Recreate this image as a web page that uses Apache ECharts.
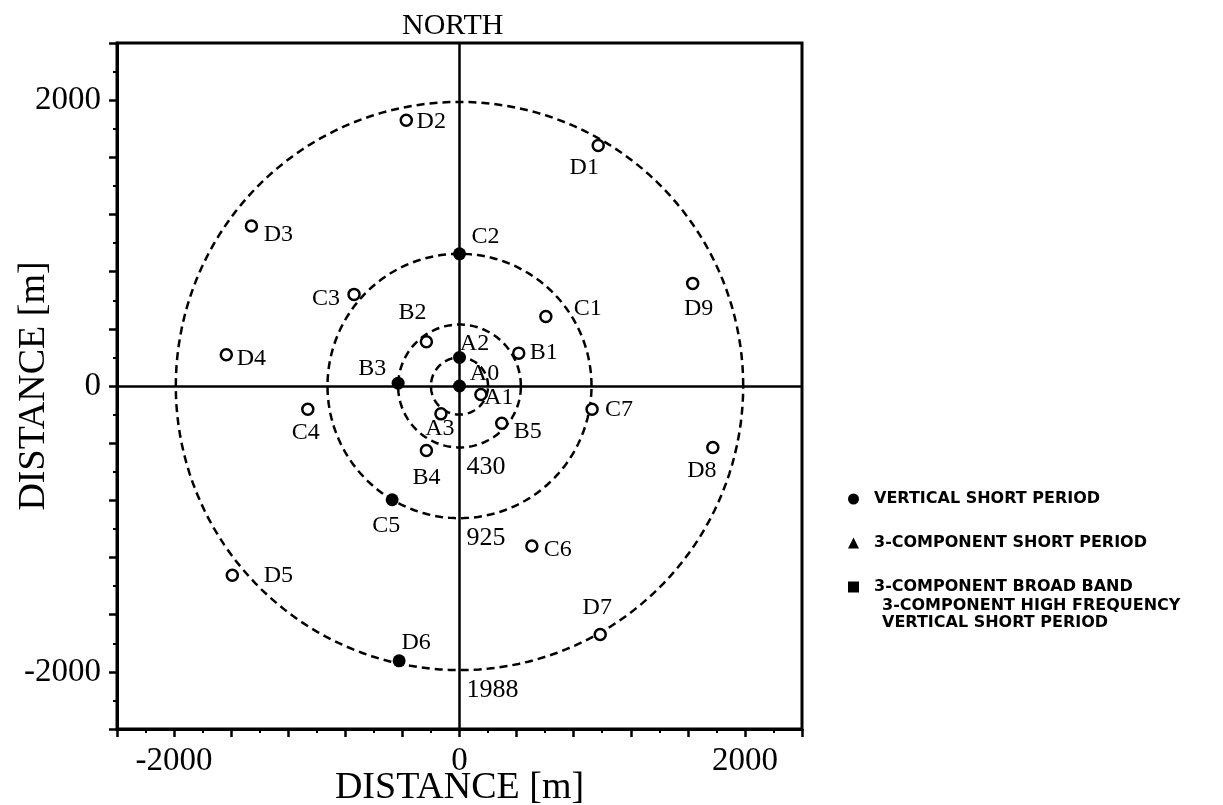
<!DOCTYPE html>
<html>
<head>
<meta charset="utf-8">
<title>Station layout</title>
<script src="https://cdn.jsdelivr.net/npm/echarts@6/dist/echarts.min.js"></script>
<style>
  html, body { margin: 0; padding: 0; background: #fff; }
  #chart { width: 1223px; height: 805px; }
</style>
</head>
<body>
<div id="chart"></div>
<script>
// ring radii (m) and the labels written under them
var ringRadii = [200, 430, 925, 1988];
var ringLabels = ['', '430', '925', '1988'];

// vertical short period stations
var vertNames = ['A1', 'A3', 'B1', 'B2', 'B4', 'B5', 'C1', 'C3', 'C4', 'C6', 'C7',
                 'D1', 'D2', 'D3', 'D4', 'D5', 'D7', 'D8', 'D9'];
var vertX = [150, -130, 415, -232, -232, 296, 605, -739, -1063, 507, 929,
             972, -373, -1458, -1634, -1592, 986, 1775, 1634];
var vertY = [-60, -195, 230, 310, -451, -261, 486, 641, -162, -1120, -162,
             1683, 1859, 1120, 218, -1324, -1739, -430, 718];

// 3-component short period stations
var shortNames = ['A2', 'B3', 'C2', 'C5', 'D6'];
var shortX = [0, -430, 0, -472, -423];
var shortY = [200, 20, 925, -796, -1923];

// broad band station
var broadNames = ['A0'];
var broadX = [0];
var broadY = [0];

var legendNames = ['VERTICAL SHORT PERIOD', '3-COMPONENT SHORT PERIOD', '3-COMPONENT BROAD BAND'];
var legendExtra = ['3-COMPONENT HIGH FREQUENCY', 'VERTICAL SHORT PERIOD'];

// where each station name sits relative to its marker (px)
var labelOffset = {
  A0: [25, -12], A1: [18, 3], A2: [15, -14], A3: [-1, 15],
  B1: [25, 0], B2: [-14, -29], B3: [-26, -14], B4: [0, 27], B5: [26, 8],
  C1: [42, -8], C2: [26, -17], C3: [-28, 4], C4: [-2, 24], C5: [-6, 26],
  C6: [26, 4], C7: [27, 1],
  D1: [-14, 22], D2: [25, 1], D3: [27, 9], D4: [25, 4], D5: [46, 0],
  D6: [17, -18], D7: [-3, -27], D8: [-11, 23], D9: [6, 25]
};

var serif = '"Liberation Serif", "Times New Roman", serif';

function stations(names, xs, ys) {
  return names.map(function (n, i) {
    return { name: n, value: [xs[i], ys[i]], label: { offset: labelOffset[n] } };
  });
}

var stationLabel = {
  show: true, position: 'inside', formatter: '{b}',
  color: '#000', fontFamily: serif, fontSize: 24
};

var chart = echarts.init(document.getElementById('chart'));

function tickLabel(v) {
  return (v === 0 || Math.abs(v) === 2000) ? String(v) : '';
}

var axisCommon = {
  type: 'value', min: -2400, max: 2400, interval: 400,
  splitLine: { show: false },
  axisLine: { onZero: false, lineStyle: { color: '#000', width: 3 } },
  axisTick: { length: 8, lineStyle: { color: '#000', width: 2.5 } },
  minorTick: { show: true, splitNumber: 2, length: 4, lineStyle: { color: '#000', width: 2 } },
  axisLabel: { formatter: tickLabel, color: '#000', fontFamily: serif, fontSize: 33, margin: 16 },
  nameLocation: 'middle',
  nameMoveOverlap: false,
  nameTextStyle: { color: '#000', fontFamily: serif, fontSize: 38 }
};

chart.setOption({
  backgroundColor: '#fff',
  animation: false,
  title: {
    text: 'NORTH', left: 397, top: 6,
    textStyle: { color: '#000', fontFamily: serif, fontSize: 30, fontWeight: 'normal' }
  },
  grid: {
    left: 117, top: 43, width: 685, height: 686,
    containLabel: false, outerBoundsMode: 'none',
    show: true, borderColor: '#000', borderWidth: 3, backgroundColor: 'transparent'
  },
  xAxis: Object.assign({}, axisCommon, { name: 'DISTANCE [m]', nameGap: 40 }),
  yAxis: Object.assign({}, axisCommon, { name: 'DISTANCE [m]', nameGap: 64, nameRotate: 90 }),
  legend: {
    orient: 'vertical', left: 843, top: 486, itemGap: 28,
    itemWidth: 11, itemHeight: 11, selectedMode: false,
    textStyle: { color: '#000', fontFamily: '"DejaVu Sans", sans-serif', fontWeight: 'bold', fontSize: 16, padding: [0, 0, 0, 10] },
    data: [
      { name: legendNames[0], icon: 'circle', itemStyle: { color: '#000', borderWidth: 0 } },
      { name: legendNames[1], icon: 'triangle', itemStyle: { color: '#000' } },
      { name: legendNames[2], icon: 'rect', itemStyle: { color: '#000' } }
    ]
  },
  graphic: legendExtra.map(function (t, i) {
    return {
      type: 'text', left: 882, top: 598 + i * 17,
      style: { text: t, fill: '#000', font: 'bold 16px "DejaVu Sans", sans-serif' }
    };
  }),
  series: [
    {
      type: 'custom', name: 'rings', z: 2, silent: true,
      data: ringRadii.map(function (r) { return [r]; }),
      renderItem: function (params, api) {
        var r = api.value(0);
        var pts = [];
        for (var a = 0; a <= 360; a += 2) {
          var t = a * Math.PI / 180;
          pts.push(api.coord([r * Math.cos(t), r * Math.sin(t)]));
        }
        var kids = [{
          type: 'polyline', shape: { points: pts },
          style: { stroke: '#000', lineWidth: 2.5, lineDash: [8, 5], fill: null }
        }];
        var txt = ringLabels[params.dataIndex];
        if (txt) {
          var p = api.coord([0, -r]);
          kids.push({
            type: 'text', x: p[0] + 7, y: p[1] + 7,
            style: { text: txt, fill: '#000', font: '26px ' + serif, align: 'left', verticalAlign: 'top' }
          });
        }
        return { type: 'group', children: kids };
      },
      markLine: {
        silent: true, symbol: ['none', 'none'], label: { show: false },
        lineStyle: { color: '#000', width: 2.5, type: 'solid' },
        data: [{ xAxis: 0 }, { yAxis: 0 }]
      }
    },
    {
      type: 'scatter', name: legendNames[0], z: 4,
      symbol: 'circle', symbolSize: 11,
      itemStyle: { color: '#fff', borderColor: '#000', borderWidth: 2.5, opacity: 1 },
      label: stationLabel,
      data: stations(vertNames, vertX, vertY)
    },
    {
      type: 'scatter', name: legendNames[1], z: 4,
      symbol: 'circle', symbolSize: 13,
      itemStyle: { color: '#000', opacity: 1 },
      label: stationLabel,
      data: stations(shortNames, shortX, shortY)
    },
    {
      type: 'scatter', name: legendNames[2], z: 4,
      symbol: 'circle', symbolSize: 13,
      itemStyle: { color: '#000', opacity: 1 },
      label: stationLabel,
      data: stations(broadNames, broadX, broadY)
    }
  ]
});
</script>
</body>
</html>
